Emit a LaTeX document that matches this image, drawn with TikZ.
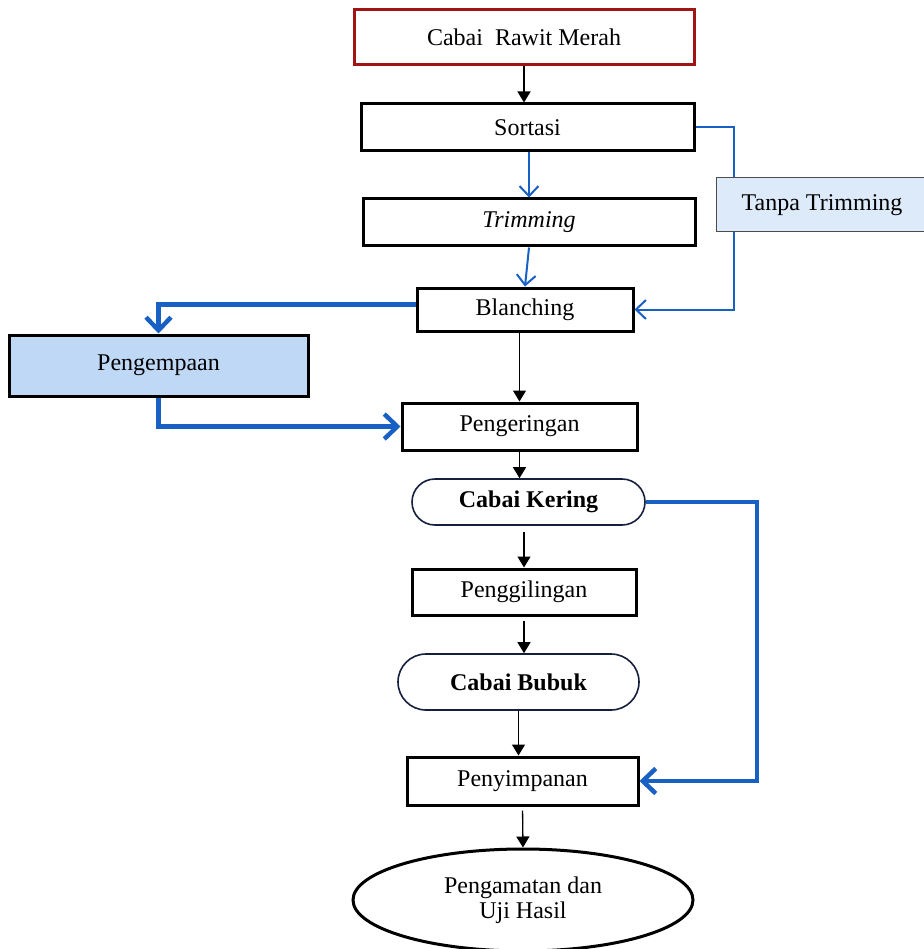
\documentclass[tikz,border=0pt]{standalone}
\usepackage{fontspec}
\setmainfont{Liberation Serif}
\usetikzlibrary{arrows.meta,shapes.geometric}
\definecolor{flowblue}{RGB}{24,96,196}
\definecolor{rawitred}{RGB}{160,20,20}
\definecolor{tanpafill}{RGB}{221,234,250}
\definecolor{kempfill}{RGB}{191,216,246}
\definecolor{capline}{RGB}{22,32,62}
\begin{document}
\begin{tikzpicture}[x=1pt,y=-1pt,
  box/.style={draw,line width=3pt,inner sep=0pt,font=\fontsize{24}{25}\selectfont},
  capsule/.style={draw=capline,line width=1.6pt,inner sep=0pt,font=\fontsize{24}{25}\selectfont\bfseries},
  blk/.style={line width=1.3pt,-{Triangle[length=11pt,width=13pt]}},
  bthin/.style={flowblue,line width=2pt},
  bthick/.style={flowblue,line width=4.5pt}]
\useasboundingbox (0,0) rectangle (923,949);
\node[box,draw=rawitred,line width=3pt,minimum width=340pt,minimum height=55pt] (rawit) at (524,37.5) {Cabai\ \ Rawit Merah};
\node[box,minimum width=333pt,minimum height=47pt] (sortasi) at (527.5,127.5) {Sortasi};
\node[box,minimum width=332pt,minimum height=47pt] (trimming) at (529,222.5) {\itshape Trimming};
\node[box,minimum width=216pt,minimum height=43pt] (blanching) at (525,309.5) {\raisebox{-3pt}{Blanching}};
\node[box,draw=black!70,line width=1pt,fill=tanpafill,minimum width=212pt,minimum height=54pt] (tanpa) at (822,205) {\raisebox{3pt}{Tanpa Trimming}};
\node[box,fill=kempfill,minimum width=299pt,minimum height=61pt] (kempa) at (158.5,365.5) {Pengempaan};
\node[box,minimum width=235pt,minimum height=47pt] (kering) at (519.5,426.5) {Pengeringan};
\node[capsule,rounded corners=23pt,minimum width=233pt,minimum height=46pt] (cabaikering) at (528.5,502) {Cabai Kering};
\node[box,minimum width=224pt,minimum height=46pt] (giling) at (524,592) {Penggilingan};
\node[capsule,rounded corners=28pt,minimum width=241pt,minimum height=56pt] (bubuk) at (518.5,682) {Cabai Bubuk};
\node[box,minimum width=231pt,minimum height=48pt] (simpan) at (522.5,781) {Penyimpanan};
\node[box,ellipse,align=center,minimum width=340pt,minimum height=102pt] (uji) at (523,900) {Pengamatan dan\\Uji Hasil};
\coordinate (tj) at (734,0);
\draw[blk] (rawit.south) -- (rawit.south |- sortasi.north);
\draw[bthin,-{Straight Barb[length=10pt,width=19pt]}] (sortasi.south -| trimming.north) -- (trimming.north);
\draw[bthin,-{Straight Barb[length=10pt,width=19pt]}] (trimming.south) -- (blanching.north);
\draw[bthin] (sortasi.east) -| (tanpa.north -| tj);
\draw[bthin,-{Straight Barb[length=10pt,width=19pt]}] (tanpa.south -| tj) |- (blanching.east);
\draw[bthick,-{Straight Barb[length=13pt,width=25pt]}] ([yshift=5pt]blanching.west) -| (kempa.north);
\draw[bthick,-{Straight Barb[length=13pt,width=25pt]}] (kempa.south) |- (kering.west);
\draw[blk] (kering.north |- blanching.south) -- (kering.north);
\draw[blk] (kering.south) -- (kering.south |- cabaikering.north);
\draw[blk,shorten <=6pt] (cabaikering.south -| giling.north) -- (giling.north);
\draw[blk,shorten <=4pt] (giling.south) -- (giling.south |- bubuk.north);
\draw[blk] (bubuk.south) -- (bubuk.south |- simpan.north);
\draw[blk,shorten <=4pt] (simpan.south) -- (uji.north);
\draw[bthick,-{Straight Barb[length=13pt,width=25pt]}] (cabaikering.east) -- ++(111,0) |- (simpan.east);
\end{tikzpicture}
\end{document}
